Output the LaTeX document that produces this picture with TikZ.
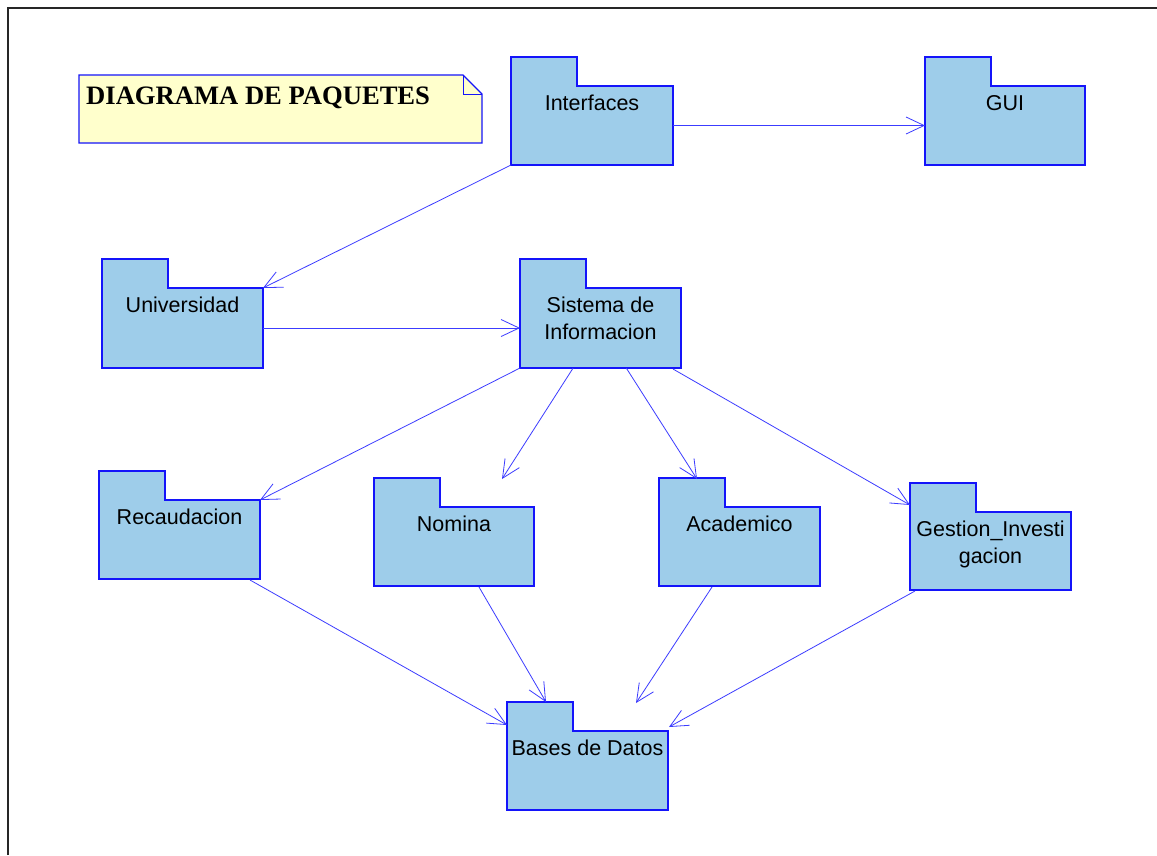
\documentclass[tikz,border=0pt]{standalone}
\usepackage{fontspec}
\setmainfont{Liberation Serif}
\newfontfamily\arialf{Liberation Sans}
\usetikzlibrary{arrows.meta,calc}
\definecolor{pkgfill}{RGB}{158,205,234}
\definecolor{pkgline}{RGB}{20,20,250}
\definecolor{arrline}{RGB}{60,60,255}
\definecolor{notefill}{RGB}{255,255,204}
\newcommand\pkgdraw[6]{%
  \node[pkgbody, minimum width=#4, minimum height=#5, anchor=north west] (#1) at (#2,#3) {};
  \draw[pkgshape] (#1.north west) -- ++(0,-29) -- ++(66,0) -- ++(0,29) -- (#1.north east)
     -- (#1.south east) -- (#1.south west) -- cycle;
  \node[pkglbl] (#1-t) at ($(#1.north)+(0,9)$) {#6};
}
\begin{document}
\begin{tikzpicture}[x=1pt,y=-1pt,
  pkgbody/.style={shape=rectangle, inner sep=0pt, outer sep=0pt},
  pkgshape/.style={draw=pkgline, fill=pkgfill, line width=1.3pt, line join=miter},
  pkglbl/.style={anchor=north, inner sep=0pt, align=center, font=\arialf\fontsize{21.5}{27}\selectfont},
  dep/.style={draw=arrline, line width=0.8pt, -{Straight Barb[length=18pt,width=17pt,line width=0.8pt]}},
  frame/.style={draw=black!85, line width=2.4pt},
  notebox/.style={shape=rectangle, inner sep=0pt, outer sep=0pt, minimum width=403, minimum height=68, anchor=north west},
  noteshape/.style={draw=pkgline, fill=notefill, line width=1.3pt}
]
\useasboundingbox (0,0) rectangle (1157,855);
\fill[white] (0,0) rectangle (1157,855);
\draw[frame] (8,855) -- (8,8) -- (1157,8);

% note
\node[notebox] (note) at (79,75) {};
\draw[noteshape] (note.north west) -- ($(note.north east)+(-19,0)$) -- ($(note.north east)+(0,19)$)
   -- (note.south east) -- (note.south west) -- cycle;
\draw[draw=pkgline, line width=0.9pt] ($(note.north east)+(-19,0)$) -- ++(0,19) -- ($(note.north east)+(0,19)$);
\node[anchor=base west, inner sep=0pt, font=\bfseries\fontsize{26.6}{30}\selectfont] (title) at (86,104) {DIAGRAMA DE PAQUETES};

% packages
\pkgdraw{int}{511}{86}{162}{79}{Interfaces}
\pkgdraw{gui}{925}{86}{160}{79}{GUI}
\pkgdraw{uni}{102}{288}{161}{80}{Universidad}
\pkgdraw{sis}{520}{288}{161}{80}{Sistema de\\Informacion}
\pkgdraw{rec}{99}{500}{161}{79}{Recaudacion}
\pkgdraw{nom}{374}{507}{160}{79}{Nomina}
\pkgdraw{aca}{659}{507}{161}{79}{Academico}
\pkgdraw{ges}{910}{512}{161}{78}{Gestion\_Investi\\gacion}
\pkgdraw{bas}{507}{731}{161}{79}{Bases de Datos}

% free ends
\coordinate (nomtip) at ($(nom.north west)+(128,-28)$);
\coordinate (acatip) at ($(aca.north west)+(38,-28)$);
\coordinate (gestip) at ($(ges.north west)+(0,-7)$);
\coordinate (basrec) at ($(bas.north west)+(0,-6)$);
\coordinate (basnom) at ($(bas.north west)+(39,-29)$);
\coordinate (basaca) at ($(bas.north west)+(129,-28)$);
\coordinate (basges) at ($(bas.north east)+(1,-4)$);

% dependencies
\draw[dep] (int.east) -- (gui.west);
\draw[dep] (int.south west) -- (uni.north east);
\draw[dep] (uni.east) -- (sis.west);
\draw[dep] (sis.south west) -- (rec.north east);
\draw[dep] ($(sis.south west)!0.33!(sis.south east)$) -- (nomtip);
\draw[dep] ($(sis.south west)!0.66!(sis.south east)$) -- (acatip);
\draw[dep] ($(sis.south east)+(-8,1)$) -- (gestip);
\draw[dep] ($(rec.south east)+(-10,1)$) -- (basrec);
\draw[dep] ($(nom.south west)+(105,1)$) -- (basnom);
\draw[dep] ($(aca.south west)+(53,1)$) -- (basaca);
\draw[dep] ($(ges.south west)+(5,1)$) -- (basges);
\end{tikzpicture}
\end{document}
